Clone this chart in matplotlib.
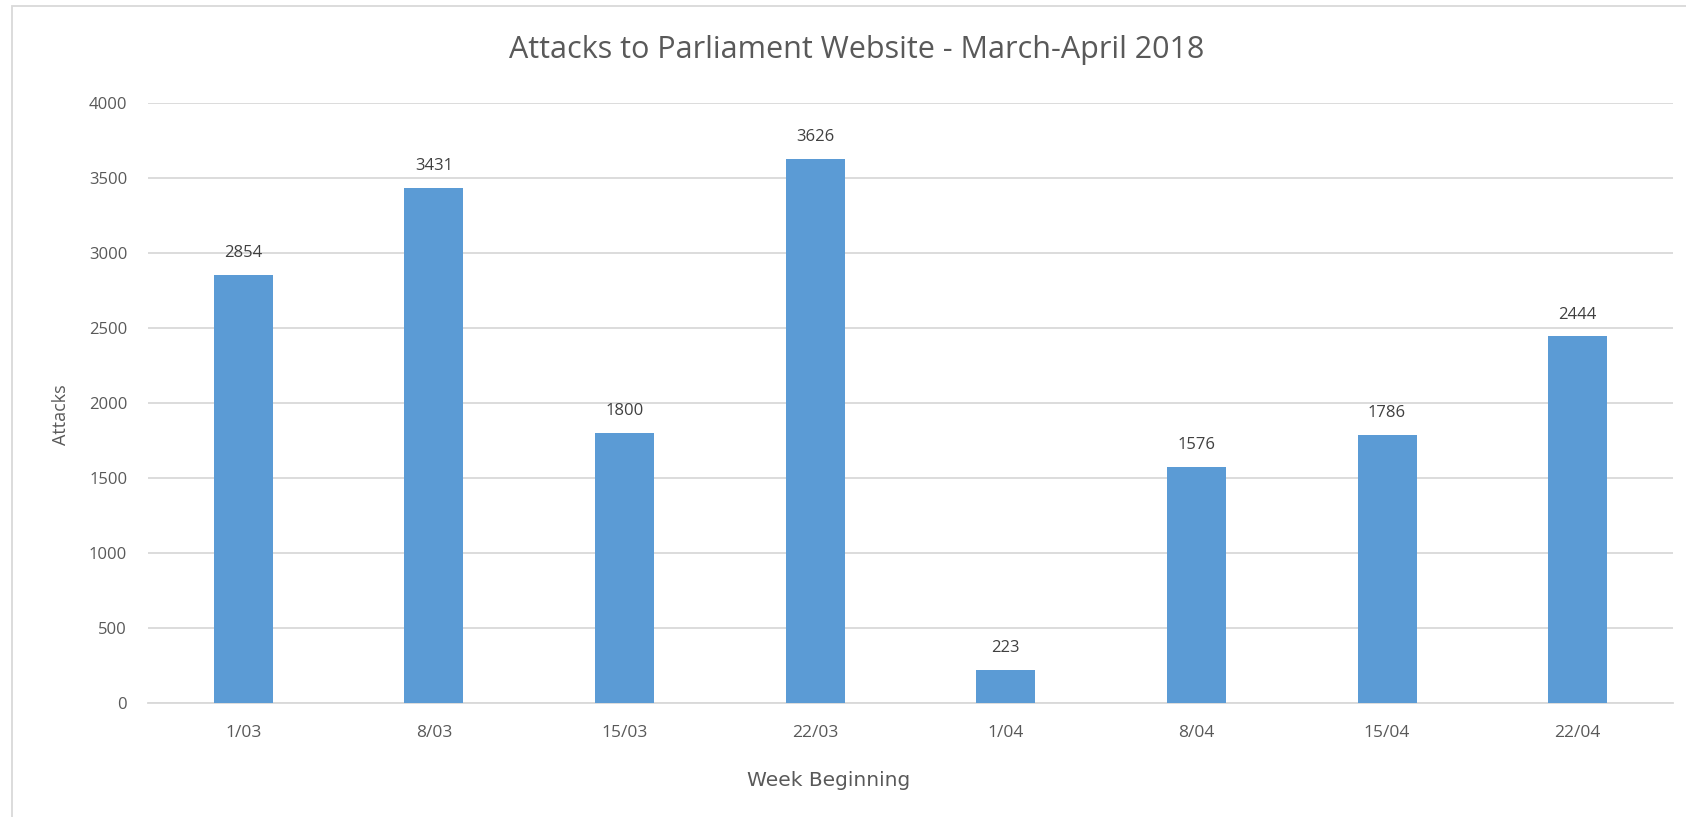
import matplotlib
matplotlib.use("Agg")
import matplotlib.pyplot as plt
from matplotlib.patches import Rectangle

weeks = ["1/03", "8/03", "15/03", "22/03", "1/04", "8/04", "15/04", "22/04"]
attacks = [2854, 3431, 1800, 3626, 223, 1576, 1786, 2444]
yticks = [0, 500, 1000, 1500, 2000, 2500, 3000, 3500, 4000]

plt.rcParams['font.family'] = ['Open Sans', 'DejaVu Sans']

fig = plt.figure(figsize=(16.86, 8.17), dpi=100)
fig.patch.set_facecolor('white')
ax = fig.add_axes([148/1686, 1-703/817, (1673-148)/1686, (703-103)/817])

x = list(range(len(weeks)))
ax.bar(x, attacks, width=0.31, color='#5B9BD5', zorder=3)
for xi, v in zip(x, attacks):
    ax.annotate(str(v), (xi, v), xytext=(0, 10), textcoords='offset points',
                ha='center', va='bottom', fontsize=12, color='#404040')

ax.set_xlim(-0.5, len(weeks) - 0.5)
ax.set_ylim(0, 4000)
ax.set_yticks(yticks)
ax.set_xticks(x)
ax.set_xticklabels(weeks)
ax.tick_params(axis='both', length=0, labelsize=12, colors='#595959')
ax.tick_params(axis='x', pad=16, labelsize=12.5)
ax.tick_params(axis='y', pad=15)
ax.grid(axis='y', color='#D9D9D9', linewidth=1.3, zorder=0)
for s in ['top', 'right', 'left']:
    ax.spines[s].set_visible(False)
ax.spines['bottom'].set_color('#D9D9D9')
ax.spines['bottom'].set_linewidth(1.3)

fig.text(857/1686, 1-50/817, "Attacks to Parliament Website - March-April 2018",
         ha='center', va='center', fontsize=22, color='#595959')
fig.text(61/1686, 1-415/817, "Attacks", rotation=90, ha='center', va='center',
         fontsize=13, color='#595959')
fig.text(829/1686, 1-780/817, "Week Beginning", ha='center', va='center',
         fontsize=14.5, color='#595959', family=['DejaVu Sans'])

# chart border (left and top visible)
fig.add_artist(Rectangle((12/1686, -0.1), 1.2, 1-6/817+0.1, transform=fig.transFigure,
                         fill=False, edgecolor='#D9D9D9', linewidth=1.3))

fig.savefig("out.png", dpi=100, facecolor='white')
